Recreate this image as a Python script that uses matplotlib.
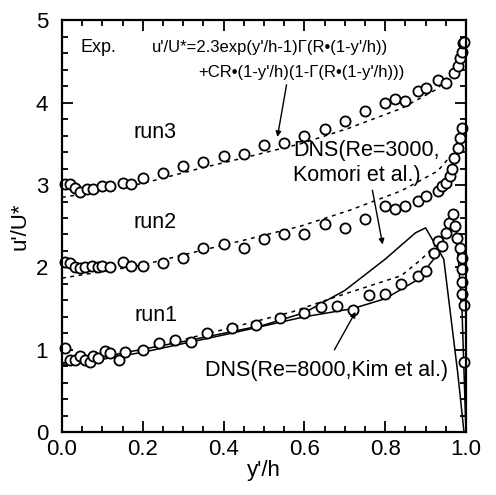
import matplotlib
matplotlib.use("Agg")
import matplotlib.pyplot as plt
from matplotlib.ticker import MultipleLocator

plt.rcParams['font.family'] = ['Liberation Sans', 'DejaVu Sans']

# --- measured profiles (runs shifted by +1 each) ---
run1_x = [0.007, 0.02, 0.032, 0.045, 0.057, 0.07, 0.077, 0.09, 0.106, 0.119, 0.14, 0.156,
          0.20, 0.24, 0.28, 0.32, 0.36, 0.42, 0.48, 0.54, 0.60, 0.64, 0.68, 0.72,
          0.76, 0.80, 0.84, 0.88, 0.90, 0.92, 0.93, 0.94, 0.95, 0.957, 0.967,
          0.973, 0.978, 0.985, 0.99, 0.99, 0.99, 0.99, 0.995, 0.995]
run1_y = [1.02, 0.87, 0.87, 0.93, 0.87, 0.85, 0.93, 0.90, 0.99, 0.96, 0.88, 0.97,
          1.00, 1.08, 1.12, 1.09, 1.20, 1.27, 1.30, 1.38, 1.45, 1.52, 1.53, 1.48,
          1.66, 1.68, 1.80, 1.90, 1.96, 2.18, 2.32, 2.26, 2.42, 2.54, 2.65,
          2.50, 2.36, 2.24, 2.12, 1.98, 1.82, 1.68, 1.54, 0.85]

run2_x = [0.007, 0.02, 0.032, 0.045, 0.057, 0.074, 0.089, 0.10, 0.12, 0.15, 0.17, 0.20,
          0.25, 0.30, 0.35, 0.40, 0.45, 0.50, 0.55, 0.60, 0.65, 0.70, 0.75, 0.80,
          0.825, 0.85, 0.88, 0.90, 0.93, 0.94, 0.95, 0.96, 0.965, 0.97, 0.98,
          0.985, 0.99]
run2_y = [2.06, 2.05, 2.00, 1.99, 2.00, 2.02, 2.00, 2.02, 2.00, 2.06, 2.02, 2.02,
          2.05, 2.11, 2.24, 2.29, 2.23, 2.34, 2.41, 2.41, 2.53, 2.48, 2.59, 2.75,
          2.71, 2.75, 2.81, 2.87, 2.93, 2.99, 3.03, 3.11, 3.20, 3.33, 3.45,
          3.57, 3.69]

run3_x = [0.007, 0.02, 0.032, 0.045, 0.062, 0.077, 0.10, 0.12, 0.15, 0.17, 0.20, 0.25,
          0.30, 0.35, 0.40, 0.45, 0.50, 0.55, 0.60, 0.65, 0.70, 0.75, 0.80, 0.825,
          0.85, 0.88, 0.90, 0.93, 0.95, 0.97, 0.98, 0.985, 0.99, 0.993, 0.995]
run3_y = [3.01, 3.01, 2.97, 2.91, 2.95, 2.95, 2.99, 2.99, 3.03, 3.01, 3.09, 3.15,
          3.23, 3.28, 3.35, 3.38, 3.49, 3.51, 3.60, 3.68, 3.78, 3.90, 4.00, 4.04,
          4.02, 4.14, 4.18, 4.28, 4.24, 4.36, 4.44, 4.54, 4.62, 4.72, 4.74]

# --- fitted curves (dashed) ---
fit1_x = [0.0, 0.2, 0.42, 0.57, 0.67, 0.84, 0.89, 0.93, 0.96]
fit1_y = [0.84, 1.00, 1.27, 1.46, 1.63, 1.90, 2.10, 2.30, 2.55]
fit2_x = [0.0, 0.1, 0.2, 0.34, 0.45, 0.59, 0.71, 0.84, 0.93, 0.97, 1.0]
fit2_y = [1.87, 1.95, 2.03, 2.20, 2.33, 2.50, 2.69, 2.93, 3.17, 3.40, 3.70]
fit3_x = [0.0, 0.1, 0.2, 0.34, 0.45, 0.59, 0.71, 0.84, 0.93, 0.97, 1.0]
fit3_y = [2.85, 2.93, 3.02, 3.20, 3.33, 3.50, 3.69, 3.93, 4.17, 4.40, 4.70]

# --- DNS profiles (solid) ---
kim_x = [0.0, 0.2, 0.4, 0.6, 0.72, 0.80, 0.88, 0.92, 0.95, 0.965, 0.975, 0.99, 1.0]
kim_y = [0.80, 0.97, 1.18, 1.40, 1.50, 1.62, 1.85, 2.10, 2.45, 2.60, 2.50, 1.50, 0.0]
komori_x = [0.0, 0.3, 0.5, 0.6, 0.7, 0.8, 0.875, 0.90, 0.945, 0.96, 0.98, 0.995]
komori_y = [0.82, 1.10, 1.30, 1.45, 1.72, 2.10, 2.42, 2.48, 2.10, 1.50, 0.70, 0.0]

fig = plt.figure(figsize=(4.96, 4.95), dpi=100)
ax = fig.add_axes([0.125, 0.127, 0.8145, 0.832])

dash = (0, (2.5, 3))
for fx, fy in [(fit1_x, fit1_y), (fit2_x, fit2_y), (fit3_x, fit3_y)]:
    ax.plot(fx, fy, color='black', lw=1.1, linestyle=dash)
ax.plot(kim_x, kim_y, color='black', lw=1.1)
ax.plot(komori_x, komori_y, color='black', lw=1.1)

for rx, ry in [(run1_x, run1_y), (run2_x, run2_y), (run3_x, run3_y)]:
    ax.plot(rx, ry, linestyle='none', marker='o', ms=7.3, mfc='white',
            mec='black', mew=1.3, clip_on=False)

ax.set_xlim(0, 1.0)
ax.set_ylim(0, 5)
ax.xaxis.set_major_locator(MultipleLocator(0.2))
ax.xaxis.set_minor_locator(MultipleLocator(0.05))
ax.yaxis.set_major_locator(MultipleLocator(1))
ax.yaxis.set_minor_locator(MultipleLocator(0.2))
ax.set_xticks([0, 0.2, 0.4, 0.6, 0.8, 1.0])
ax.set_xticklabels(['0.0', '0.2', '0.4', '0.6', '0.8', '1.0'])
ax.tick_params(which='both', direction='in', top=True, right=True, width=1.3,
               labelsize=16)
ax.tick_params(axis='x', pad=5)
ax.tick_params(axis='y', pad=10)
ax.tick_params(which='major', length=8)
ax.tick_params(which='minor', length=4)
for s in ax.spines.values():
    s.set_linewidth(1.6)

ax.set_xlabel("y'/h", fontsize=16, labelpad=0)
ax.set_ylabel("u'/U*", fontsize=16, labelpad=4)

ax.text(0.045, 4.67, "Exp.", fontsize=13, va='center')
ax.text(0.223, 4.67, "u'/U*=2.3exp(y'/h-1)\u0393(R\u2022(1-y'/h))", fontsize=12, va='center')
ax.text(0.337, 4.37, "+CR\u2022(1-y'/h)(1-\u0393(R\u2022(1-y'/h)))", fontsize=12, va='center')
ax.annotate("", xy=(0.532, 3.55), xytext=(0.557, 4.25),
            arrowprops=dict(arrowstyle='-|>', color='black', lw=1.0,
                            mutation_scale=8))

ax.text(0.176, 3.64, "run3", fontsize=15.5, va='center')
ax.text(0.176, 2.55, "run2", fontsize=15.5, va='center')
ax.text(0.18, 1.42, "run1", fontsize=15.5, va='center')

ax.text(0.572, 3.42, "DNS(Re=3000,", fontsize=15.5, va='center')
ax.text(0.572, 3.12, "Komori et al.)", fontsize=15.5, va='center')
ax.annotate("", xy=(0.795, 2.245), xytext=(0.767, 2.97),
            arrowprops=dict(arrowstyle='-|>', color='black', lw=1.0,
                            mutation_scale=8))

ax.text(0.354, 0.75, "DNS(Re=8000,Kim et al.)", fontsize=15.5, va='center')
ax.annotate("", xy=(0.73, 1.49), xytext=(0.671, 0.97),
            arrowprops=dict(arrowstyle='-|>', color='black', lw=1.0,
                            mutation_scale=8))

fig.savefig("out.png", dpi=100)
